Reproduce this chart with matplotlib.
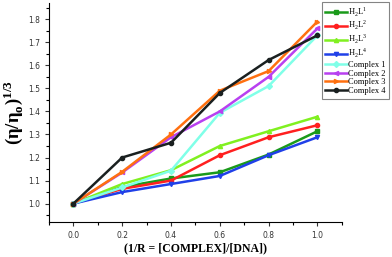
import matplotlib.pyplot as plt
from matplotlib.ticker import MultipleLocator

x = [0.0, 0.2, 0.4, 0.6, 0.8, 1.0]

h2l1 = [1.0, 1.072, 1.109, 1.136, 1.213, 1.314]
h2l2 = [1.0, 1.064, 1.100, 1.210, 1.288, 1.340]
h2l3 = [1.0, 1.085, 1.145, 1.250, 1.314, 1.377]
h2l4 = [1.0, 1.050, 1.085, 1.120, 1.210, 1.288]
complex1 = [1.0, 1.070, 1.143, 1.394, 1.510, 1.730]
complex2 = [1.0, 1.135, 1.288, 1.400, 1.550, 1.760]
complex3 = [1.0, 1.138, 1.300, 1.490, 1.575, 1.790]
complex4 = [1.0, 1.200, 1.264, 1.480, 1.623, 1.730]

labels = ["H$_\\mathregular{2}$L$^\\mathregular{1}$", "H$_\\mathregular{2}$L$^\\mathregular{2}$",
          "H$_\\mathregular{2}$L$^\\mathregular{3}$", "H$_\\mathregular{2}$L$^\\mathregular{4}$",
          "Complex 1", "Complex 2", "Complex 3", "Complex 4"]
series = [h2l1, h2l2, h2l3, h2l4, complex1, complex2, complex3, complex4]
colors = ["#1a9a1a", "#ff2020", "#80f020", "#2040e8",
          "#80ffe8", "#b840f0", "#ff7010", "#1a2020"]
markers = ["s", "o", "^", "v", "D", "<", ">", "o"]

fig = plt.figure(figsize=(3.92, 2.57), dpi=100)
ax = fig.add_axes([0.125, 0.136, 0.747, 0.852])

for ys, lab, c, m in zip(series, labels, colors, markers):
    ax.plot(x, ys, color=c, marker=m, markersize=3, linewidth=1.8, label=lab)

ax.set_xlim(-0.1, 1.1)
ax.set_ylim(0.92, 1.87)
ax.xaxis.set_major_locator(MultipleLocator(0.2))
ax.xaxis.set_minor_locator(MultipleLocator(0.1))
ax.yaxis.set_major_locator(MultipleLocator(0.1))
ax.yaxis.set_minor_locator(MultipleLocator(0.05))
ax.spines["top"].set_visible(False)
ax.spines["right"].set_visible(False)
ax.tick_params(labelsize=5.5, length=3, width=0.8, colors="#333333")
ax.tick_params(which="minor", length=2, width=0.8)

ax.set_xlabel("(1/R = [COMPLEX]/[DNA])", family="Liberation Serif",
              fontweight="bold", fontsize=8.5, labelpad=1.5)
ax.set_ylabel("(η/η$_\\mathregular{o}$)$^\\mathregular{1/3}$", family="Liberation Serif",
              fontweight="bold", fontsize=13.5, labelpad=2)

leg = fig.legend(loc="upper right", bbox_to_anchor=(0.997, 1.0),
                 prop={"family": "Liberation Serif", "size": 6},
                 fancybox=False, edgecolor="#666666", handlelength=2.6,
                 labelspacing=0.08, borderpad=0.45, handletextpad=0.1,
                 borderaxespad=0.2)
leg.get_frame().set_linewidth(0.8)

fig.savefig("out.png", dpi=100)
